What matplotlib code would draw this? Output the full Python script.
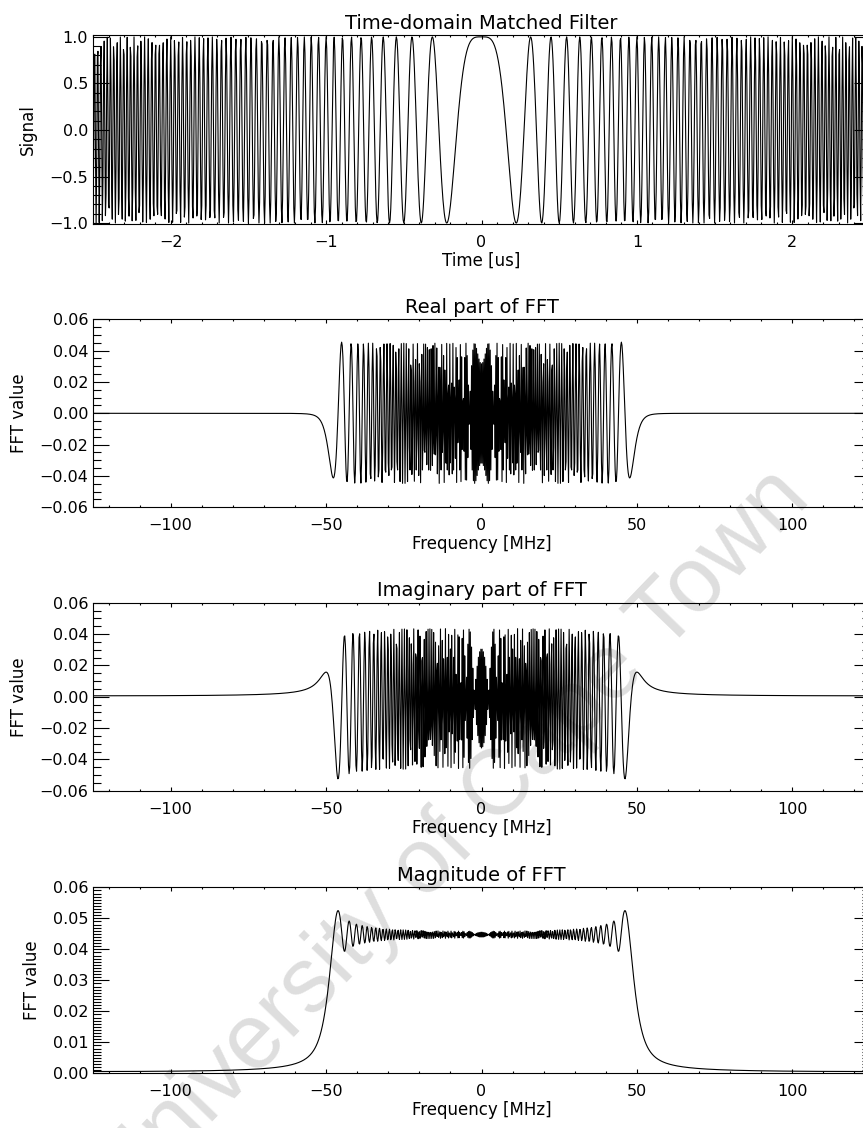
import numpy as np
import matplotlib
matplotlib.use("Agg")
import matplotlib.pyplot as plt
from matplotlib.ticker import MultipleLocator, FuncFormatter

# chirp parameters
pulse_length_us = 5.0      # time axis spans -2.5 .. 2.5 us
bandwidth_mhz = 100.0      # spectrum occupies -50 .. 50 MHz
sample_rate_mhz = 250.0    # frequency axis spans -125 .. 125 MHz

titles = ["Time-domain Matched Filter", "Real part of FFT",
          "Imaginary part of FFT", "Magnitude of FFT"]
xlabels = ["Time [us]", "Frequency [MHz]", "Frequency [MHz]", "Frequency [MHz]"]
ylabels = ["Signal", "FFT value", "FFT value", "FFT value"]
watermark = "University of Cape Town"

# matched filter of a linear FM chirp (array centred on t=0, FFT taken as is)
n_samples = int(pulse_length_us * sample_rate_mhz)
chirp_rate = bandwidth_mhz / pulse_length_us
t = (np.arange(n_samples) - n_samples / 2) / sample_rate_mhz
h = np.exp(-1j * np.pi * chirp_rate * t ** 2)

spec = np.fft.fftshift(np.fft.fft(h)) / n_samples
freq = np.fft.fftshift(np.fft.fftfreq(n_samples, d=1.0 / sample_rate_mhz))

plt.rcParams["font.family"] = "DejaVu Sans"

fig = plt.figure(figsize=(8.63, 11.28), dpi=100)
fig.patch.set_facecolor("white")

left = 93 / 863
width = 777 / 863
tops = [35, 319.3, 602.7, 887.3]
bottoms = [224, 507.3, 790.7, 1073.3]

def fmt(decimals):
    return FuncFormatter(lambda v, p: ("%.*f" % (decimals, v)).replace("-", "\u2212"))

axes = []
for i in range(4):
    b = 1 - bottoms[i] / 1128
    hgt = (bottoms[i] - tops[i]) / 1128
    ax = fig.add_axes([left, b, width, hgt])
    ax.patch.set_visible(False)
    axes.append(ax)

# x, y, xlim, ylim, x major/minor, y major/minor, y decimals, x decimals
panels = [
    (t, h.real, (-2.5, 2.5), (-1.01, 1.02), 1, 0.1, 0.5, 0.1, 1, 0),
    (freq, spec.real, (-125, 125), (-0.06, 0.06), 50, 10, 0.02, 0.005, 2, 0),
    (freq, spec.imag, (-125, 125), (-0.06, 0.06), 50, 10, 0.02, 0.005, 2, 0),
    (freq, np.abs(spec), (-125, 125), (0.0, 0.06), 50, 10, 0.01, 0.001, 2, 0),
]
ylabelpads = [9, 8, 8, 8]

for i, ax in enumerate(axes):
    x, y, xl, yl, xmaj, xmin, ymaj, ymin, ydec, xdec = panels[i]
    ax.plot(x, y, color="black", lw=0.8)
    ax.set_xlim(*xl)
    ax.set_ylim(*yl)
    ax.xaxis.set_major_locator(MultipleLocator(xmaj))
    ax.xaxis.set_minor_locator(MultipleLocator(xmin))
    ax.yaxis.set_major_locator(MultipleLocator(ymaj))
    ax.yaxis.set_minor_locator(MultipleLocator(ymin))
    ax.xaxis.set_major_formatter(fmt(xdec))
    ax.yaxis.set_major_formatter(fmt(ydec))
    ax.tick_params(which="both", direction="in", top=True, right=True,
                   width=0.8, labelsize=11.5)
    ax.tick_params(axis="x", which="major", length=2.8, pad=8)
    ax.tick_params(axis="x", which="minor", length=1.4)
    ax.tick_params(axis="y", which="major", length=11.2, pad=3.5)
    ax.tick_params(axis="y", which="minor", length=5.6)
    for s in ax.spines.values():
        s.set_linewidth(0.8)
    ax.set_title(titles[i], fontsize=14, pad=4.5)
    ax.set_xlabel(xlabels[i], fontsize=12, labelpad=1.5)
    ax.set_ylabel(ylabels[i], fontsize=12, labelpad=ylabelpads[i])

fig.text(0.524, 0.257, watermark, fontsize=66, family="Liberation Sans",
         color="#dedede", rotation=46, ha="center", va="center",
         rotation_mode="anchor", zorder=-1)

fig.savefig("out.png", dpi=100)
